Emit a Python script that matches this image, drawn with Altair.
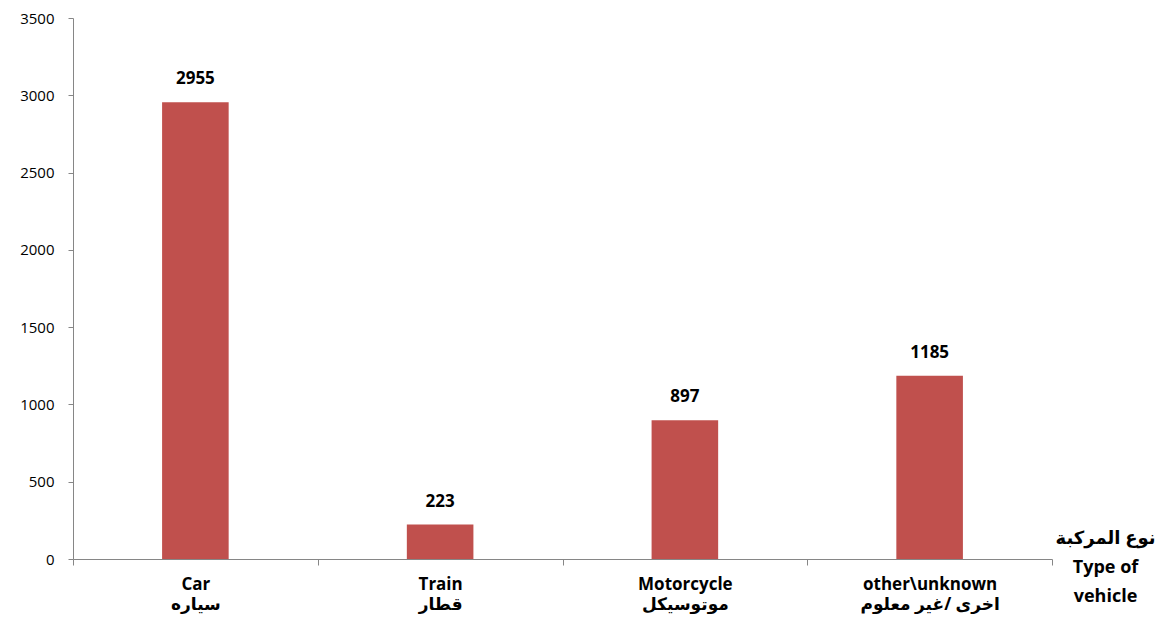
import altair as alt
import pandas as pd

categories_en = ["Car", "Train", "Motorcycle", "other\\unknown"]
categories_ar = ["سياره", "قطار", "موتوسيكل", "اخرى /غير معلوم"]
values = [2955, 223, 897, 1185]
y_ticks = [0, 500, 1000, 1500, 2000, 2500, 3000, 3500]
axis_title = ["نوع المركبة", "Type of", "vehicle"]

df = pd.DataFrame({
    "cat": [f"{e}|{a}" for e, a in zip(categories_en, categories_ar)],
    "value": values,
})

FONT = "Open Sans, DejaVu Sans, sans-serif"
W, H = 979, 541

x = alt.X(
    "cat:N",
    sort=None,
    scale=alt.Scale(paddingInner=0, paddingOuter=0),
    axis=alt.Axis(
        title=axis_title,
        titleFont=FONT,
        titleFontSize=18,
        titleFontWeight="bold",
        titleColor="#000000",
        titleAnchor="end",
        titleAlign="center",
        titleBaseline="top",
        titleX=W + 53,
        titleY=-30,
        titleLineHeight=29,
        labelExpr="split(datum.label, '|')",
        labelFont=FONT,
        labelFontSize=17,
        labelFontWeight="bold",
        labelColor="#000000",
        labelLineHeight=20,
        labelPadding=11,
        labelAngle=0,
        tickBand="extent",
        tickSize=6,
        tickColor="#868686",
        domainColor="#868686",
        grid=False,
    ),
)

y = alt.Y(
    "value:Q",
    scale=alt.Scale(domain=[0, 3500], nice=False),
    axis=alt.Axis(
        title=None,
        values=y_ticks,
        format="d",
        labelFont=FONT,
        labelFontSize=15,
        labelColor="#000000",
        labelPadding=14,
        tickSize=5,
        tickColor="#868686",
        domainColor="#868686",
        grid=False,
    ),
)

bars = alt.Chart(df).mark_bar(
    color="#C0504D", width=alt.RelativeBandSize(0.272)
).encode(x=x, y=y)
labels = alt.Chart(df).mark_text(
    dy=-14, baseline="bottom", font=FONT, fontSize=17, fontWeight="bold", color="#000000"
).encode(x=alt.X("cat:N", sort=None), y="value:Q", text="value:Q")

chart = (bars + labels).properties(
    width=W, height=H,
    background="#ffffff",
    autosize=alt.AutoSizeParams(type="none"),
    padding={"left": 65, "top": 10, "right": 104, "bottom": 55},
).configure_view(stroke=None)

chart.save("out.html", embed_options={"renderer": "svg", "actions": False})
